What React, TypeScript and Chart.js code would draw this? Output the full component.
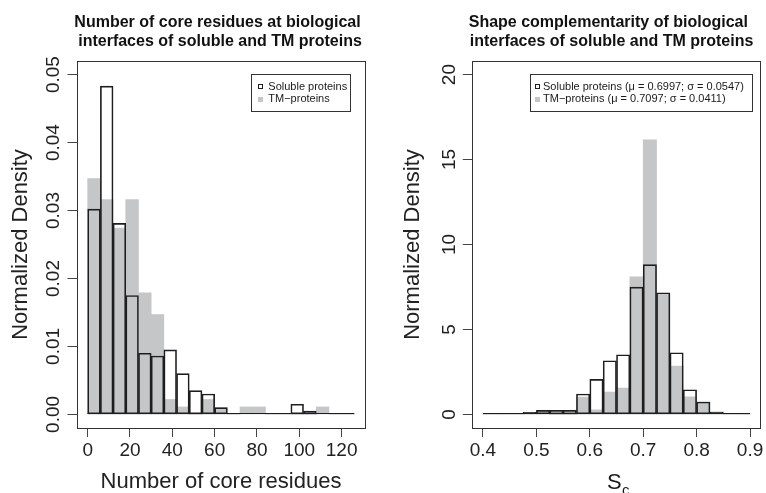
import React, { useEffect, useRef } from 'react';
import { Chart, registerables } from 'chart.js';

Chart.register(...registerables);

const FONT = '"Liberation Sans", Arial, Helvetica, sans-serif';

// ---------- Left panel: number of core residues ----------
const coreBinEdges = [0, 6, 12, 18, 24, 30, 36, 42, 48, 54, 60, 66, 72, 78, 84, 90, 96, 102, 108, 114, 120, 126];
const coreSoluble = [0.0302, 0.0483, 0.0281, 0.0175, 0.0090, 0.0086, 0.0095, 0.0060, 0.0035, 0.0030, 0.0010, 0, 0, 0, 0, 0, 0.0015, 0.0005, 0, 0, 0];
const coreTM = [0.0347, 0.0316, 0.0274, 0.0316, 0.0179, 0.0147, 0.0022, 0.0011, 0, 0.0022, 0.0010, 0, 0.0011, 0.0011, 0, 0, 0, 0, 0.0011, 0, 0];
const coreXTicks = [0, 20, 40, 60, 80, 100, 120];
const coreYTicks = [0, 0.01, 0.02, 0.03, 0.04, 0.05];
const coreTitle = ['Number of core residues at biological', 'interfaces of soluble and TM proteins'];
const coreLegend = ['Soluble proteins', 'TM\u2212proteins'];
const coreXLabel = 'Number of core residues';

// ---------- Right panel: shape complementarity ----------
const scBinEdges = [0.4, 0.425, 0.45, 0.475, 0.5, 0.525, 0.55, 0.575, 0.6, 0.625, 0.65, 0.675, 0.7, 0.725, 0.75, 0.775, 0.8, 0.825, 0.85, 0.875, 0.9];
const scSoluble = [0, 0, 0, 0.12, 0.24, 0.24, 0.24, 1.20, 2.06, 3.16, 3.51, 7.49, 8.82, 7.16, 3.63, 1.45, 0.73, 0.14, 0, 0];
const scTM = [0, 0, 0, 0.12, 0.16, 0, 0, 1.02, 0.27, 1.31, 1.55, 8.10, 16.16, 7.10, 2.84, 1.04, 0.73, 0.14, 0, 0];
const scXTicks = [0.4, 0.5, 0.6, 0.7, 0.8, 0.9];
const scYTicks = [0, 5, 10, 15, 20];
const scTitle = ['Shape complementarity of biological', 'interfaces of soluble and TM proteins'];
const scLegend = ['Soluble proteins (\u03bc = 0.6997; \u03c3 = 0.0547)', 'TM\u2212proteins (\u03bc = 0.7097; \u03c3 = 0.0411)'];
const scXLabelMain = 'S';
const scXLabelSub = 'c';

const yLabel = 'Normalized Density';

const GRAY = '#c5c6c8';
const DARK = '#1e1e1e';

type Panel = {
  edges: number[];
  soluble: number[];
  tm: number[];
  xTicks: number[];
  yTicks: number[];
  xRange: [number, number];
  yRange: [number, number];
  xFmt: (v: number) => string;
  yFmt: (v: number) => string;
  padRight: number;
  yWidth: number;
  yTickLen: number;
  yTickPad: number;
  yTitlePad: number;
  xTitle: string | null;
  title: string[];
  titleX: number[];
  legend: string[];
  legendBox: { x: number; y: number; w: number; h: number };
  legendSymX: number;
  legendTextX: number;
  subLabel?: { main: string; sub: string; x: number };
};

function centers(edges: number[]) {
  const out: number[] = [];
  for (let i = 0; i < edges.length - 1; i++) out.push((edges[i] + edges[i + 1]) / 2);
  return out;
}

function decorPlugin(p: Panel) {
  return {
    id: 'decor',
    afterDatasetsDraw(chart: any) {
      const { ctx, scales } = chart;
      const xs = scales.x;
      const ys = scales.y;
      ctx.save();
      // baseline of histogram
      const y0 = ys.getPixelForValue(0);
      ctx.strokeStyle = DARK;
      ctx.lineWidth = 1;
      ctx.beginPath();
      ctx.moveTo(xs.getPixelForValue(p.edges[0]), Math.round(y0) - 0.5);
      ctx.lineTo(xs.getPixelForValue(p.edges[p.edges.length - 1]), Math.round(y0) - 0.5);
      ctx.stroke();
      ctx.restore();
    },
    afterDraw(chart: any) {
      const { ctx, chartArea } = chart;
      ctx.save();
      // plot box
      ctx.strokeStyle = '#333';
      ctx.lineWidth = 1;
      ctx.strokeRect(
        Math.round(chartArea.left) + 0.5,
        Math.round(chartArea.top) + 0.5,
        Math.round(chartArea.right - chartArea.left),
        Math.round(chartArea.bottom - chartArea.top)
      );
      // titles
      ctx.fillStyle = '#111';
      ctx.font = `bold 16px ${FONT}`;
      ctx.textAlign = 'center';
      ctx.textBaseline = 'alphabetic';
      const baselines = [26.7, 45.7];
      p.title.forEach((t, i) => ctx.fillText(t, p.titleX[i], baselines[i]));
      // legend
      const b = p.legendBox;
      ctx.strokeStyle = '#333';
      ctx.strokeRect(Math.round(b.x) + 0.5, Math.round(b.y) + 0.5, Math.round(b.w), Math.round(b.h));
      ctx.font = `11px ${FONT}`;
      ctx.textAlign = 'left';
      ctx.textBaseline = 'middle';
      const rows = [b.y + 12.8, b.y + 25.4];
      // soluble symbol: open square
      ctx.strokeStyle = DARK;
      ctx.strokeRect(Math.round(p.legendSymX) + 0.5, Math.round(rows[0] - 2.5) + 0.5, 4, 4);
      // TM symbol: gray square
      ctx.fillStyle = GRAY;
      ctx.fillRect(Math.round(p.legendSymX), Math.round(rows[1] - 2.5), 5, 5);
      ctx.fillStyle = '#1a1a1a';
      p.legend.forEach((t, i) => ctx.fillText(t, p.legendTextX, rows[i]));
      // subscript x label
      if (p.subLabel) {
        ctx.textAlign = 'left';
        ctx.textBaseline = 'alphabetic';
        ctx.font = `22px ${FONT}`;
        const w = ctx.measureText(p.subLabel.main).width;
        ctx.font = `15px ${FONT}`;
        const ws = ctx.measureText(p.subLabel.sub).width;
        const start = p.subLabel.x - (w + ws) / 2;
        ctx.font = `22px ${FONT}`;
        ctx.fillText(p.subLabel.main, start, 489);
        ctx.font = `15px ${FONT}`;
        ctx.fillText(p.subLabel.sub, start + w + 0.5, 494.5);
      }
      ctx.restore();
    },
  };
}

function makeConfig(p: Panel): any {
  const cx = centers(p.edges);
  const tickFont = { size: 19, family: FONT, lineHeight: 1.2 };
  return {
    type: 'bar',
    data: {
      datasets: [
        {
          label: 'Soluble',
          data: cx.map((x, i) => ({ x, y: p.soluble[i] })),
          backgroundColor: 'rgba(0,0,0,0)',
          borderColor: DARK,
          borderWidth: 1,
          borderSkipped: false,
          grouped: false,
          barPercentage: 1,
          categoryPercentage: 1,
          order: 0,
        },
        {
          label: 'TM',
          data: cx.map((x, i) => ({ x, y: p.tm[i] })),
          backgroundColor: GRAY,
          borderWidth: 0,
          grouped: false,
          barPercentage: 1,
          categoryPercentage: 1,
          order: 1,
        },
      ],
    },
    options: {
      animation: false,
      responsive: false,
      events: [],
      layout: { padding: { left: 0, right: p.padRight, top: 61, bottom: 0 } },
      plugins: { legend: { display: false }, tooltip: { enabled: false }, title: { display: false } },
      scales: {
        x: {
          type: 'linear',
          offset: false,
          min: p.xRange[0],
          max: p.xRange[1],
          afterBuildTicks: (s: any) => {
            s.ticks = p.xTicks.map((v) => ({ value: v }));
          },
          afterFit: (s: any) => {
            s.height = 65;
            s.paddingLeft = 0;
            s.paddingRight = 0;
          },
          grid: { display: true, offset: false, drawOnChartArea: false, drawTicks: true, tickLength: 9, color: '#444', lineWidth: 1 },
          border: { display: false },
          ticks: {
            autoSkip: false,
            maxRotation: 0,
            minRotation: 0,
            padding: 2,
            font: tickFont,
            color: '#222',
            callback: (v: number) => p.xFmt(v),
          },
          title: p.xTitle
            ? { display: true, text: p.xTitle, font: { size: 22, family: FONT, lineHeight: 1 }, color: '#222', padding: { top: 0, bottom: 0 } }
            : { display: false },
        },
        y: {
          type: 'linear',
          min: p.yRange[0],
          max: p.yRange[1],
          afterBuildTicks: (s: any) => {
            s.ticks = p.yTicks.map((v) => ({ value: v }));
          },
          afterFit: (s: any) => {
            s.width = p.yWidth;
            s.paddingTop = 0;
            s.paddingBottom = 0;
          },
          grid: { display: true, drawOnChartArea: false, drawTicks: true, tickLength: p.yTickLen, color: '#444', lineWidth: 1 },
          border: { display: false },
          ticks: {
            autoSkip: false,
            minRotation: 90,
            maxRotation: 90,
            crossAlign: 'center',
            padding: p.yTickPad,
            font: tickFont,
            color: '#222',
            callback: (v: number) => p.yFmt(v),
          },
          title: { display: true, text: yLabel, font: { size: 22, family: FONT, lineHeight: 1 }, color: '#222', padding: { top: p.yTitlePad, bottom: 0 } },
        },
      },
    },
    plugins: [decorPlugin(p)],
  };
}

const leftPanel: Panel = {
  edges: coreBinEdges,
  soluble: coreSoluble,
  tm: coreTM,
  xTicks: coreXTicks,
  yTicks: coreYTicks,
  xRange: [-5.04, 131.04],
  yRange: [-0.002, 0.052],
  xFmt: (v) => String(v),
  yFmt: (v) => v.toFixed(2),
  padRight: 18,
  yWidth: 77,
  yTickLen: 9.5,
  yTickPad: -5,
  yTitlePad: 10,
  xTitle: coreXLabel,
  title: coreTitle,
  titleX: [217.5, 220],
  legend: coreLegend,
  legendBox: { x: 250.7, y: 74, w: 99.3, h: 37 },
  legendSymX: 258.3,
  legendTextX: 268.3,
};

const rightPanel: Panel = {
  edges: scBinEdges,
  soluble: scSoluble,
  tm: scTM,
  xTicks: scXTicks,
  yTicks: scYTicks,
  xRange: [0.38, 0.92],
  yRange: [-0.8, 20.8],
  xFmt: (v) => v.toFixed(1),
  yFmt: (v) => String(v),
  padRight: 5.3,
  yWidth: 89.3,
  yTickLen: 9.5,
  yTickPad: 2.7,
  yTitlePad: 19,
  xTitle: null,
  title: scTitle,
  titleX: [225.3, 228.5],
  legend: scLegend,
  legendBox: { x: 147.3, y: 74, w: 222, h: 37 },
  legendSymX: 152,
  legendTextX: 160,
  subLabel: { main: scXLabelMain, sub: scXLabelSub, x: 235 },
};

function Hist({ panel }: { panel: Panel }) {
  const ref = useRef<HTMLCanvasElement | null>(null);
  useEffect(() => {
    if (!ref.current) return;
    Chart.defaults.font.family = FONT;
    const chart = new Chart(ref.current, makeConfig(panel));
    return () => chart.destroy();
  }, [panel]);
  return <canvas ref={ref} width={383} height={493} style={{ display: 'block', width: 383, height: 493 }} />;
}

export default function App() {
  return (
    <div style={{ position: 'absolute', left: 0, top: 0, width: 766, height: 493, display: 'flex', background: '#fff' }}>
      <Hist panel={leftPanel} />
      <Hist panel={rightPanel} />
    </div>
  );
}
